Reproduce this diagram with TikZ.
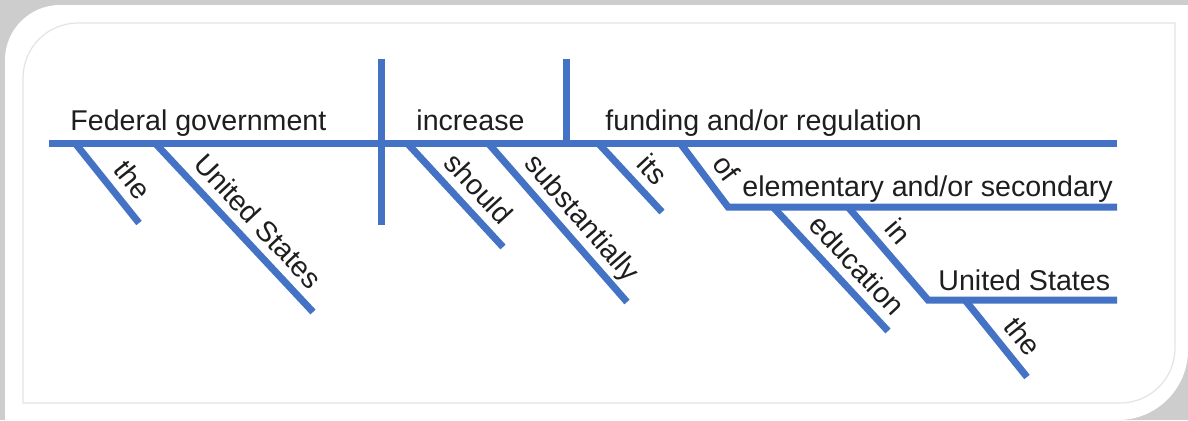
\documentclass[tikz,border=0pt]{standalone}
\usepackage{fontspec}
\setmainfont{Liberation Sans}
\definecolor{diagblue}{RGB}{68,114,196}
\definecolor{wordgray}{RGB}{30,30,30}
\definecolor{framegray}{RGB}{205,205,205}
\definecolor{rulegray}{RGB}{228,228,228}
\tikzset{
  diagline/.style={diagblue, line width=3.5pt},
  word/.style={wordgray, font=\fontsize{14.3}{17}\selectfont, inner sep=0pt, text depth=0pt},
  slantword/.style={word, sloped, above, outer ysep=6pt}
}
\begin{document}
\begin{tikzpicture}[x=0.5pt, y=-0.5pt]
\useasboundingbox (0,0) rectangle (1188,420);
\fill[framegray] (0,0) rectangle (1188,420);
\fill[white] (5,420) -- (5,60) .. controls (5,29.6) and (29.6,5) .. (60,5) -- (1188,5) -- (1188,350) .. controls (1188,388.6) and (1156.6,420) .. (1118,420) -- cycle;
\draw[rulegray, line width=0.6pt] (23,403) -- (23,78) .. controls (23,47.6) and (47.6,23) .. (78,23) -- (1175,23) -- (1175,348) .. controls (1175,378.4) and (1150.4,403) .. (1120,403) -- cycle;
% main line
\coordinate (base-l) at (49,143);
\coordinate (base-r) at (1117,143);
\coordinate (subj-t) at (381,59);
\coordinate (subj-b) at (381,225);
\coordinate (obj-t) at (566,59);
\coordinate (obj-b) at (566,143);
\draw[diagline] (base-l) -- (base-r);
\draw[diagline] (subj-t) -- (subj-b);
\draw[diagline] (obj-t) -- (obj-b);
\node[word, anchor=base west] (fedgov) at (70,130) {Federal government};
\node[word, anchor=base west] (increase) at (416,130) {increase};
\node[word, anchor=base west] (funding) at (605,130) {funding and/or regulation};
% modifiers of the subject
\coordinate (the-a) at (75,143);
\coordinate (the-b) at (139,223);
\coordinate (us-a) at (155,143);
\coordinate (us-b) at (313,312);
\draw[diagline] (the-a) -- (the-b) node[slantword, pos=0.63] (the1) {the};
\draw[diagline] (us-a) -- (us-b) node[slantword, pos=0.55] (us1) {United States};
% modifiers of the verb
\coordinate (should-a) at (407,143);
\coordinate (should-b) at (503,247);
\coordinate (subst-a) at (488,143);
\coordinate (subst-b) at (627,302);
\draw[diagline] (should-a) -- (should-b) node[slantword, pos=0.58] (should) {should};
\draw[diagline] (subst-a) -- (subst-b) node[slantword, pos=0.56] (subst) {substantially};
% modifiers of the object
\coordinate (its-a) at (598,143);
\coordinate (its-b) at (662,212);
\coordinate (of-a) at (680,143);
\coordinate (of-b) at (728,207);
\coordinate (elem-r) at (1117,207);
\draw[diagline] (its-a) -- (its-b) node[slantword, pos=0.6] (its) {its};
\draw[diagline] (of-a) -- node[slantword, pos=0.6] (of) {of} (of-b) -- (elem-r);
\node[word, anchor=base west] (elem) at (742,196) {elementary and/or secondary};
% under the prepositional phrase
\coordinate (edu-a) at (773,207);
\coordinate (edu-b) at (888,331);
\coordinate (in-a) at (848,207);
\coordinate (in-b) at (928,300);
\coordinate (us2-r) at (1117,300);
\draw[diagline] (edu-a) -- (edu-b) node[slantword, pos=0.59] (edu) {education};
\draw[diagline] (in-a) -- node[slantword, pos=0.42] (in) {in} (in-b) -- (us2-r);
\node[word, anchor=base west] (us2) at (938,290) {United States};
\coordinate (the2-a) at (965,300);
\coordinate (the2-b) at (1027,377);
\draw[diagline] (the2-a) -- (the2-b) node[slantword, pos=0.65] (the2) {the};
\end{tikzpicture}
\end{document}
